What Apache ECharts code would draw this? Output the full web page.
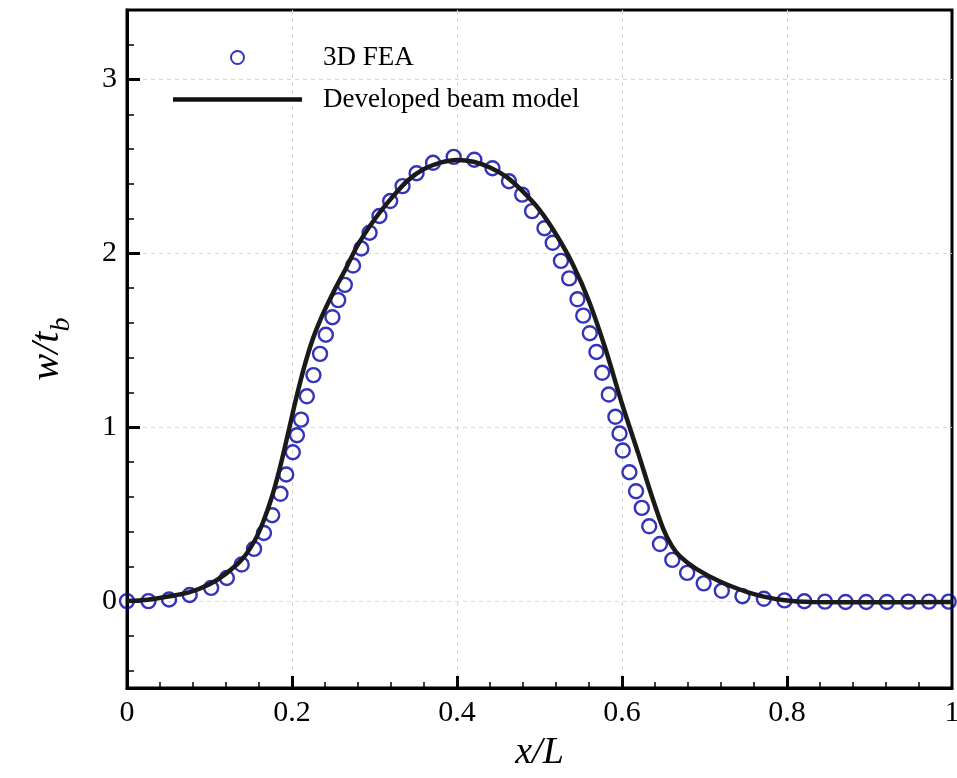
<!DOCTYPE html>
<html><head><meta charset="utf-8">
<script src="https://cdn.jsdelivr.net/npm/echarts@6/dist/echarts.min.js"></script>
<style>html,body{margin:0;padding:0;background:#fff}#c{width:957px;height:778px}</style>
</head><body><div id="c"></div>
<script>
const seriesNames = ['3D FEA', 'Developed beam model'];
const feaX = [0, 0.026, 0.051, 0.076, 0.102, 0.121, 0.139, 0.154, 0.166, 0.176, 0.186, 0.193, 0.201, 0.206, 0.211, 0.218, 0.226, 0.234, 0.241, 0.249, 0.256, 0.264, 0.274, 0.284, 0.294, 0.306, 0.319, 0.334, 0.351, 0.371, 0.396, 0.421, 0.443, 0.463, 0.479, 0.491, 0.506, 0.516, 0.526, 0.536, 0.546, 0.553, 0.561, 0.569, 0.576, 0.584, 0.592, 0.597, 0.601, 0.609, 0.617, 0.624, 0.633, 0.646, 0.661, 0.679, 0.699, 0.721, 0.746, 0.772, 0.797, 0.821, 0.846, 0.871, 0.896, 0.921, 0.947, 0.972, 0.996];
const feaY = [0, 0, 0.009, 0.035, 0.076, 0.133, 0.210, 0.300, 0.392, 0.494, 0.617, 0.728, 0.856, 0.954, 1.044, 1.178, 1.300, 1.422, 1.532, 1.633, 1.731, 1.819, 1.930, 2.028, 2.119, 2.215, 2.301, 2.387, 2.461, 2.521, 2.555, 2.539, 2.490, 2.415, 2.338, 2.243, 2.145, 2.061, 1.957, 1.856, 1.736, 1.642, 1.541, 1.433, 1.313, 1.188, 1.060, 0.964, 0.866, 0.741, 0.632, 0.536, 0.430, 0.328, 0.237, 0.162, 0.102, 0.059, 0.028, 0.013, 0.004, -0.001, -0.003, -0.005, -0.005, -0.005, -0.003, -0.003, -0.003];
const modelX = [0, 0.025, 0.05, 0.075, 0.1, 0.12, 0.14, 0.155, 0.165, 0.175, 0.185, 0.195, 0.205, 0.215, 0.225, 0.235, 0.25, 0.265, 0.28, 0.3, 0.32, 0.34, 0.36, 0.38, 0.4, 0.42, 0.44, 0.46, 0.48, 0.5, 0.52, 0.54, 0.56, 0.58, 0.6, 0.62, 0.635, 0.65, 0.66, 0.67, 0.69, 0.72, 0.76, 0.795, 0.83, 0.9, 1.0];
const modelY = [0, 0.008, 0.026, 0.05, 0.097, 0.158, 0.243, 0.35, 0.455, 0.59, 0.76, 0.96, 1.165, 1.35, 1.505, 1.625, 1.775, 1.91, 2.05, 2.195, 2.315, 2.418, 2.485, 2.522, 2.537, 2.527, 2.494, 2.44, 2.355, 2.25, 2.11, 1.94, 1.725, 1.45, 1.135, 0.845, 0.62, 0.415, 0.32, 0.258, 0.185, 0.11, 0.04, 0.006, -0.006, -0.007, -0.006];
const xLabels = [0, 0.2, 0.4, 0.6, 0.8, 1];
const xMajorTicks = [0.2, 0.4, 0.6, 0.8];
const yMajorTicks = [0, 1, 2, 3];
const yMinorTicks = [-0.4, -0.2, 0.2, 0.4, 0.6, 0.8, 1.2, 1.4, 1.6, 1.8, 2.2, 2.4, 2.6, 2.8, 3.2];

const FONT = 'Liberation Serif';
const chart = echarts.init(document.getElementById('c'), null, {renderer: 'canvas'});
const feaData = feaX.map((x, i) => [x, feaY[i]]);
const modelData = modelX.map((x, i) => [x, modelY[i]]);

chart.setOption({
  animation: false,
  backgroundColor: '#fff',
  grid: {left: 127, right: 5, top: 10, bottom: 90, outerBoundsMode: 'none', containLabel: false,
         show: true, borderColor: '#000', borderWidth: 3, backgroundColor: 'transparent'},
  legend: {
    left: 173, top: 44, padding: 0, orient: 'vertical', itemWidth: 129, itemHeight: 13, itemGap: 15,
    data: [{name: seriesNames[0]}, {name: seriesNames[1], icon: 'path://M0,0L129,0L129,4.5L0,4.5Z'}],
    textStyle: {fontFamily: FONT, fontSize: 27, color: '#000', padding: [0, 0, 0, 16]}
  },
  xAxis: {
    type: 'value', min: 0, max: 1, interval: 0.2,
    name: 'x/L', nameLocation: 'middle', nameGap: 46,
    nameTextStyle: {fontFamily: FONT, fontStyle: 'italic', fontSize: 38, color: '#000'},
    axisLine: {onZero: false, lineStyle: {color: '#000', width: 3}},
    axisTick: {inside: true, length: 12, customValues: xMajorTicks, lineStyle: {color: '#000', width: 3}},
    minorTick: {show: true, splitNumber: 5, length: 6, lineStyle: {color: '#000', width: 1.5}},
    axisLabel: {fontFamily: FONT, fontSize: 30, color: '#000', margin: 10, customValues: xLabels},
    splitLine: {show: true, lineStyle: {color: '#d6d6d6', width: 1, type: [4, 4]}}
  },
  yAxis: [{
    type: 'value', min: -0.5, max: 3.4, position: 'left',
    name: '{m|w/t}{s|b}', nameLocation: 'middle', nameGap: 51, nameRotate: 90,
    nameTextStyle: {
      rich: {
        m: {fontFamily: FONT, fontStyle: 'italic', fontSize: 40, color: '#000', verticalAlign: 'bottom', padding: [0, 0, 9, 0]},
        s: {fontFamily: FONT, fontStyle: 'italic', fontSize: 28, color: '#000', verticalAlign: 'bottom'}
      }
    },
    axisLine: {show: true, onZero: false, lineStyle: {color: '#000', width: 3}},
    axisTick: {show: true, inside: true, length: 13, customValues: yMajorTicks, lineStyle: {color: '#000', width: 3}},
    axisLabel: {fontFamily: FONT, fontSize: 30, color: '#000', margin: 10, customValues: yMajorTicks},
    splitLine: {show: true, lineStyle: {color: '#d6d6d6', width: 1, type: [4, 4]}},
    minorTick: {show: false}
  }, {
    type: 'value', min: -0.5, max: 3.4, position: 'left', offset: 0,
    axisLine: {show: false, onZero: false},
    axisTick: {show: true, inside: true, length: 7, customValues: yMinorTicks, lineStyle: {color: '#000', width: 1.5}},
    axisLabel: {show: false},
    splitLine: {show: false}
  }],
  series: [{
    name: seriesNames[0], type: 'scatter', yAxisIndex: 0, data: feaData,
    symbol: 'circle', symbolSize: 14,
    itemStyle: {color: 'rgba(255,255,255,0)', borderColor: '#0000aa', borderWidth: 2.4}
  }, {
    name: seriesNames[1], type: 'line', yAxisIndex: 0, data: modelData,
    showSymbol: false, symbol: 'none', smooth: 0.3,
    lineStyle: {color: '#1a1a1a', width: 4.5},
    itemStyle: {color: '#111'}
  }]
});
</script>
</body></html>
